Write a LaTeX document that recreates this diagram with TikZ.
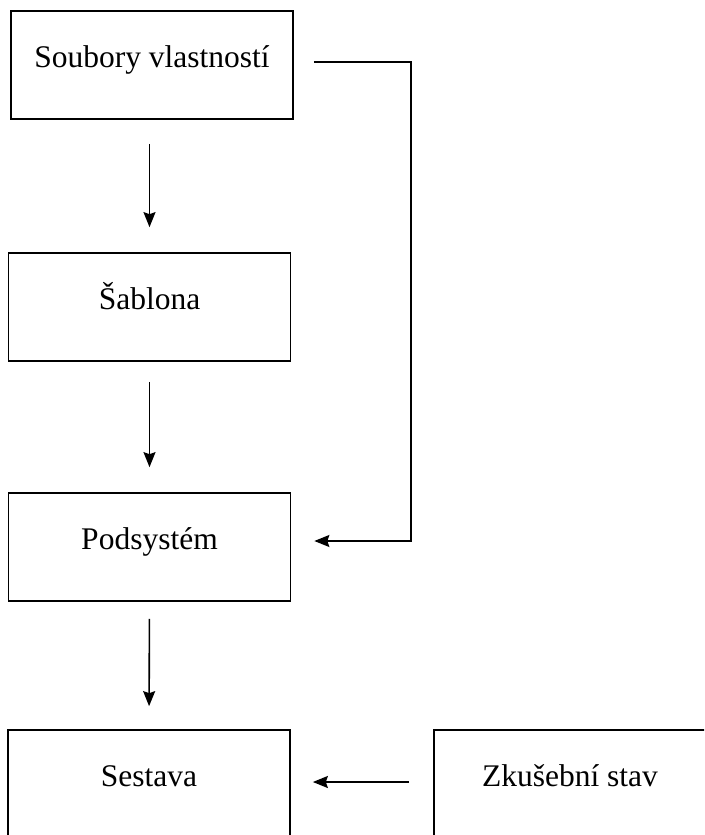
\documentclass[tikz,border=0pt]{standalone}
\usepackage{fontspec}
\setmainfont{Liberation Serif}
\usetikzlibrary{arrows.meta}
\tikzset{
  blok/.style={draw,line width=1.7pt,minimum width=282pt,minimum height=108pt,inner sep=0pt,
    text height=0.7em,text depth=0.22em,font=\fontsize{31.5}{36}\selectfont},
  sipka/.style={-{Stealth[length=15pt,width=12pt,inset=2pt]},line width=1.6pt}
}
\begin{document}
\begin{tikzpicture}[x=1pt,y=-1pt]
  \useasboundingbox (0,0) rectangle (704,835);
  \clip (0,0) rectangle (704,835);
  \node[blok] (vlast) at (152,65) {Soubory vlastností};
  \node[blok] (sablona) at (149.5,307) {Šablona};
  \node[blok] (podsys) at (149.5,547) {Podsystém};
  \node[blok] (sestava) at (149,784) {Sestava};
  \node[blok,minimum width=272pt] (zkus) at (570,784) {Zkušební stav};
  % svisle sipky
  \draw[sipka,shorten <=24pt,shorten >=25pt] (vlast.south -| sablona.north)--(sablona.north);
  \draw[sipka,shorten <=20pt,shorten >=25pt] (sablona.south)--(podsys.north);
  \draw[sipka,shorten <=17pt,shorten >=23pt] (podsys.south)--(sestava.north);
  % obchvat vpravo
  \draw[sipka] ([xshift=20pt,yshift=3pt]vlast.east) -- ++(97,0) |- ([xshift=23pt,yshift=6pt]podsys.east);
  \draw[sipka,shorten <=24pt,shorten >=22pt] ([yshift=2pt]zkus.west)--([yshift=2pt]sestava.east);
\end{tikzpicture}
\end{document}
